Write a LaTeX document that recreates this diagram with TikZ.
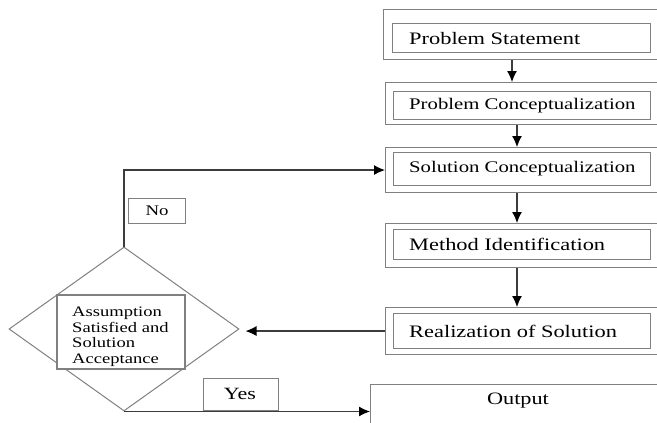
\documentclass[tikz,border=0pt]{standalone}
\usepackage{fontspec}
\setmainfont{Liberation Serif}[FakeStretch=1.28]
\usetikzlibrary{shapes.geometric,arrows.meta}
\definecolor{boxgray}{RGB}{128,128,128}
\definecolor{linegray}{RGB}{60,60,60}
\tikzset{
  outerbox/.style={draw=boxgray,line width=1.1pt,rectangle,inner sep=0pt,anchor=north west},
  innerbox/.style={draw=boxgray,line width=1.1pt,rectangle,inner sep=0pt,anchor=north west},
  txt/.style={anchor=west,inner sep=0pt,text=black},
  conn/.style={draw=linegray,line width=1.2pt},
  arr/.style={conn,-{Latex[length=11pt,width=10pt,color=black]}},
}
\newcommand{\fs}[1]{\fontsize{#1}{#1}\selectfont}
\begin{document}
\begin{tikzpicture}[x=1pt,y=-1pt]
\useasboundingbox (0,0) rectangle (657,423);
\clip (0,0) rectangle (657,423);
% outer boxes
\node[outerbox,minimum width=287pt,minimum height=50pt] (o1) at (383,9) {};
\node[outerbox,minimum width=285pt,minimum height=42pt] (o2) at (385,82) {};
\node[outerbox,minimum width=285pt,minimum height=45pt] (o3) at (385,147) {};
\node[outerbox,minimum width=285pt,minimum height=44pt] (o4) at (385,223) {};
\node[outerbox,minimum width=285pt,minimum height=47pt] (o5) at (385,307) {};
% inner boxes
\node[innerbox,minimum width=258pt,minimum height=29pt] (i1) at (392,23) {};
\node[innerbox,minimum width=257pt,minimum height=28pt] (i2) at (393,91) {};
\node[innerbox,minimum width=257pt,minimum height=33pt] (i3) at (393,152) {};
\node[innerbox,minimum width=257pt,minimum height=30pt] (i4) at (393,229) {};
\node[innerbox,minimum width=257pt,minimum height=35pt] (i5) at (393,313) {};
% texts
\node[txt] (t1) at ([xshift=17pt]i1.west) {\fs{17.5}Problem Statement};
\node[txt] (t2) at ([xshift=16pt]i2.west) {\fs{16.2}Problem Conceptualization};
\node[txt] (t3) at ([xshift=16pt]i3.west) {\fs{16.2}Solution Conceptualization};
\node[txt] (t4) at ([xshift=16pt]i4.west) {\fs{17.5}Method Identification};
\node[txt] (t5) at ([xshift=16pt]i5.west) {\fs{17.5}Realization of Solution};
% output box
\node[outerbox,minimum width=300pt,minimum height=60pt] (out) at (370,384) {};
\node[inner sep=0pt] (outt) at (518,401) {\fs{17.4}Output};
% decision diamond
\node[diamond,draw=boxgray,line width=1pt,minimum width=230pt,minimum height=164pt,inner sep=0pt] (d) at (124,329) {};
\node[innerbox,fill=white,minimum width=127pt,minimum height=73pt] (ab) at (57,295) {};
\begin{scope}
\clip (57,295) rectangle (184,368);
\node[anchor=north west,inner sep=0pt,align=left,font=\fontsize{14.5}{15.4}\selectfont] (abt) at (72,307) {Assumption\\Satisfied and\\Solution\\Acceptance};
\end{scope}
\draw[innerbox] (ab.north west) rectangle (ab.south east);
% No / Yes labels
\node[draw=boxgray,line width=1.1pt,minimum width=57pt,minimum height=25pt,inner sep=0pt,anchor=north west] (no) at (128,198) {};
\node[inner sep=0pt] (not) at (no.center) {\fs{14.7}No};
\node[draw=boxgray,line width=1.1pt,minimum width=75pt,minimum height=32pt,inner sep=0pt,anchor=north west] (yes) at (203,378) {};
\node[inner sep=0pt] (yest) at (240,394) {\fs{17.2}Yes};
% connectors
\draw[arr] (o1.south -| 512,0) -- (o2.north -| 512,0);
\draw[arr] (o2.south -| 517,0) -- (o3.north -| 517,0);
\draw[arr] (o3.south -| 517,0) -- (o4.north -| 517,0);
\draw[arr] (o4.south -| 517,0) -- (o5.north -| 517,0);
\draw[arr] (o5.west) -- ([xshift=6pt]o5.west -| d.east);
\draw[arr] (d.north) |- (o3.west);
\draw[arr] (d.south) -- (d.south -| out.west);
\end{tikzpicture}
\end{document}
